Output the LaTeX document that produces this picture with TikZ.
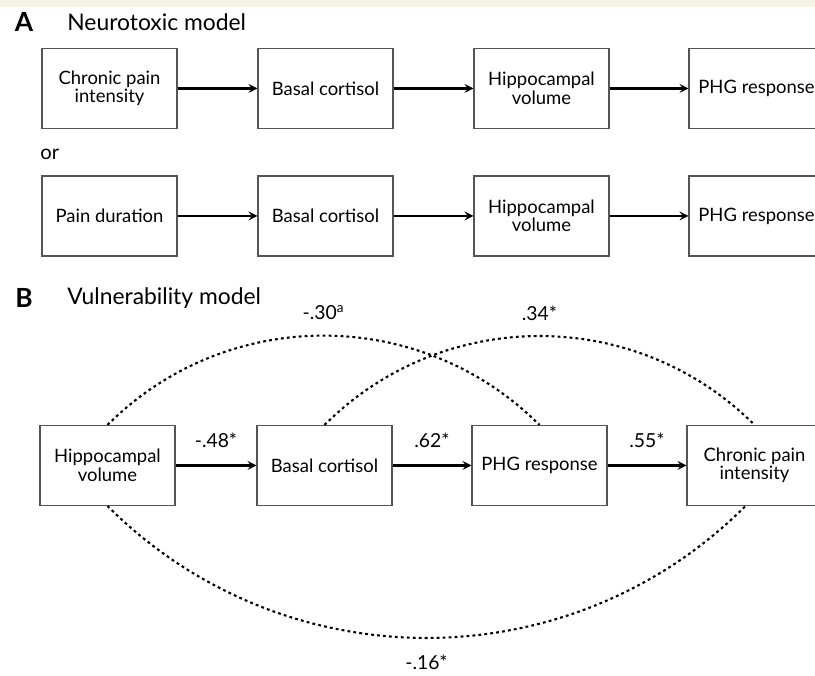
\documentclass[tikz,border=0pt]{standalone}
\usepackage{fontspec}
\setmainfont{Lato}
\usepackage{tikz}
\definecolor{paper}{RGB}{245,241,228}
\definecolor{frame}{RGB}{85,85,85}

\begin{document}
\begin{tikzpicture}[scale=1.0,>=stealth,
  box/.style={draw=frame,line width=0.6pt,minimum width=2.7cm,minimum height=1.6cm,
    align=center,font=\fontsize{10.5}{10.5}\selectfont},
  link/.style={->,line width=1.2pt},
  corr/.style={dash pattern=on 1.6pt off 1.8pt,line width=1.2pt},
  coef/.style={font=\fontsize{11}{12}\selectfont},
  panel/.style={inner sep=0,font=\bfseries\fontsize{15}{15}\selectfont},
  title/.style={anchor=west,inner sep=0,font=\fontsize{13}{13}\selectfont}]
\useasboundingbox (0,0) rectangle (16.3,13.52);
\clip (0,0) rectangle (16.3,13.52);
\fill[paper] (0,13.38) rectangle (16.3,13.52);

\node[panel] (pA) at (0.48,13.08) {A};
\node[title] (tA) at (1.34,13.08) {Neurotoxic model};
\node[box] (c1) at (2.19,11.75) {Chronic pain\\intensity};
\node[box] (c2) at (6.51,11.75) {Basal cortisol};
\node[box] (c3) at (10.83,11.75) {Hippocampal\\volume};
\node[box] (c4) at (15.13,11.75) {PHG response};
\draw[link] (c1) -- (c2);
\draw[link] (c2) -- (c3);
\draw[link] (c3) -- (c4);

\node[title,font=\fontsize{11.5}{11.5}\selectfont] (or) at (0.80,10.44) {or};
\node[box] (d1) at (2.19,9.20) {Pain duration};
\node[box] (d2) at (6.51,9.20) {Basal cortisol};
\node[box] (d3) at (10.83,9.20) {Hippocampal\\volume};
\node[box] (d4) at (15.13,9.20) {PHG response};
\draw[link] (d1) -- (d2);
\draw[link] (d2) -- (d3);
\draw[link] (d3) -- (d4);

\node[panel] (pB) at (0.48,7.56) {B};
\node[title] (tB) at (1.34,7.56) {Vulnerability model};
\node[box] (v1) at (2.15,4.21) {Hippocampal\\volume};
\node[box] (v2) at (6.49,4.21) {Basal cortisol};
\node[box] (v3) at (10.79,4.21) {PHG response};
\node[box] (v4) at (15.09,4.21) {Chronic pain\\intensity};
\draw[link] (v1) -- node[coef,above=6pt] {-.48*} (v2);
\draw[link] (v2) -- node[coef,above=6pt] {.62*} (v3);
\draw[link] (v3) -- node[coef,above=6pt] {.55*} (v4);
\draw[corr] (v1.north) to[out=45,in=135] node[coef,above=5pt] {-.30\textsuperscript{a}} (v3.north);
\draw[corr] (v2.north) to[out=45,in=135] node[coef,above=5pt] {.34*} (v4.north);
\draw[corr] (v1.south) to[out=-45,in=-135] node[coef,below=6pt] {-.16*} ([xshift=-0.18cm]v4.south);
\end{tikzpicture}
\end{document}
